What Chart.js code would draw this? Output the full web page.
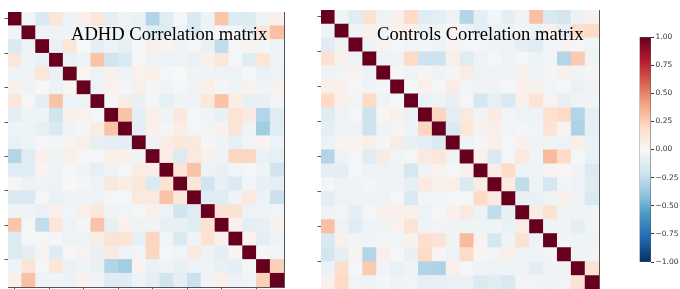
<!DOCTYPE html>
<html>
<head>
<meta charset="utf-8">
<script src="https://cdn.jsdelivr.net/npm/chart.js@4"></script>
<style>
  body { margin: 0; width: 680px; height: 289px; overflow: hidden; background: #fff; position: relative; }
  canvas { position: absolute; }
  .title { position: absolute; font-family: 'Liberation Serif', serif; font-size: 18.6px; line-height: 19px; color: #000; white-space: nowrap; }
</style>
</head>
<body>
<canvas id="adhd" width="300" height="300" style="left:0;top:0"></canvas>
<canvas id="controls" width="300" height="310" style="left:312px;top:0"></canvas>
<canvas id="cbar" width="68" height="289" style="left:612px;top:0"></canvas>
<div class="title" style="left:71px;top:23.5px">ADHD Correlation matrix</div>
<div class="title" style="left:377px;top:23.5px">Controls Correlation matrix</div>
<script>
// 20 regions, tick marks only (no labels) every 2.5 cells
var tickPositions = [0, 2.5, 5, 7.5, 10, 12.5, 15, 17.5];
var colorbarTicks = [-1, -0.75, -0.5, -0.25, 0, 0.25, 0.5, 0.75, 1];

// upper triangle of each correlation matrix, row r holds columns r+1..19
var adhdUpper = [
  [-0.03, -0.15, 0.12, -0.06, 0.05, 0.12, -0.10, -0.05, -0.07, -0.30, -0.12, -0.02, -0.15, -0.04, 0.28, -0.14, -0.14, -0.05, 0.05],
  [-0.06, -0.05, -0.04, -0.05, -0.02, -0.05, -0.05, -0.05, -0.12, -0.12, -0.06, -0.15, -0.05, -0.02, -0.02, -0.10, 0.14, 0.30],
  [-0.07, 0.12, 0.00, -0.10, -0.05, -0.09, -0.02, 0.05, 0.03, -0.05, -0.02, -0.07, -0.25, -0.02, 0.03, -0.02, -0.05],
  [-0.07, -0.06, 0.29, -0.20, -0.15, -0.02, -0.05, -0.06, -0.06, -0.07, 0.05, 0.12, -0.02, -0.12, 0.12, -0.04],
  [0.02, -0.06, 0.05, -0.05, 0.04, 0.06, -0.02, 0.00, -0.04, -0.03, -0.06, -0.06, -0.02, -0.07, -0.06],
  [-0.06, 0.04, -0.02, 0.06, -0.02, -0.04, -0.02, -0.04, 0.06, -0.02, -0.05, 0.04, -0.05, 0.04],
  [-0.02, 0.08, -0.08, -0.02, -0.09, -0.05, -0.06, 0.11, 0.29, 0.07, -0.08, -0.08, -0.03],
  [0.29, -0.10, 0.06, -0.05, 0.11, -0.02, -0.04, -0.08, 0.14, 0.09, -0.30, -0.12],
  [-0.10, 0.05, -0.02, 0.07, -0.02, -0.03, 0.04, 0.14, -0.05, -0.35, -0.12],
  [-0.04, 0.08, 0.11, 0.10, -0.02, -0.05, -0.09, -0.03, 0.03, -0.06],
  [0.07, -0.14, 0.10, 0.05, -0.05, 0.22, 0.22, -0.07, -0.09],
  [0.14, 0.29, -0.06, -0.08, -0.03, -0.02, -0.05, -0.20],
  [0.12, -0.20, -0.08, -0.15, -0.03, -0.08, -0.10],
  [-0.12, -0.12, -0.04, 0.10, -0.06, -0.22],
  [0.15, 0.15, -0.06, -0.05, -0.03],
  [0.05, -0.10, -0.08, 0.05],
  [0.03, -0.10, -0.06],
  [-0.02, -0.03],
  [0.24]
];

var controlsUpper = [
  [-0.04, -0.11, 0.15, -0.05, 0.05, 0.20, -0.12, -0.10, -0.06, -0.30, -0.10, -0.02, -0.10, -0.04, 0.30, -0.16, -0.19, -0.06, 0.04],
  [-0.04, 0.05, -0.03, 0.05, 0.05, -0.06, -0.05, 0.03, -0.06, -0.10, -0.06, -0.06, -0.03, -0.06, 0.05, -0.10, 0.18, 0.20],
  [-0.06, 0.04, -0.02, -0.03, -0.02, -0.06, 0.03, -0.02, -0.02, -0.04, -0.04, -0.10, -0.12, -0.03, 0.03, -0.02, -0.03],
  [-0.06, -0.04, 0.20, -0.21, -0.21, 0.06, -0.12, -0.06, -0.02, -0.06, -0.02, -0.05, -0.03, -0.30, 0.26, -0.05],
  [-0.02, -0.05, 0.02, -0.04, -0.02, 0.08, -0.06, -0.06, -0.04, 0.05, -0.05, -0.02, 0.05, -0.03, -0.02],
  [-0.02, 0.05, -0.02, 0.08, -0.03, -0.04, -0.04, -0.02, 0.05, 0.04, -0.03, -0.02, -0.07, -0.04],
  [-0.07, -0.05, -0.08, -0.02, -0.18, -0.09, -0.16, 0.05, 0.14, 0.04, -0.08, -0.04, -0.03],
  [0.22, -0.10, 0.10, -0.04, 0.09, -0.03, -0.06, -0.04, 0.16, 0.20, -0.30, -0.09],
  [-0.15, 0.12, 0.04, 0.06, -0.03, -0.02, -0.03, 0.14, 0.03, -0.31, -0.09],
  [-0.04, -0.02, 0.06, -0.02, 0.05, -0.04, -0.05, -0.06, 0.06, -0.07],
  [0.05, -0.15, -0.02, 0.10, -0.05, 0.32, 0.20, -0.02, -0.07],
  [0.08, 0.20, -0.06, -0.05, 0.03, 0.02, -0.04, -0.15],
  [0.09, -0.25, -0.05, -0.18, -0.03, -0.06, -0.11],
  [-0.08, -0.07, -0.05, 0.06, -0.05, -0.16],
  [0.08, 0.15, -0.05, -0.04, -0.03],
  [-0.06, -0.04, -0.10, -0.03],
  [-0.03, -0.04, -0.05],
  [-0.04, -0.03],
  [0.15]
];

// RdBu_r
var rdbu = [[5,48,97],[33,102,172],[67,147,195],[146,197,222],[209,229,240],[247,247,247],
            [253,219,199],[244,165,130],[214,96,77],[178,24,43],[103,0,31]];

function cmap(v) {
  var t = (v + 1) / 2 * 10;
  var i = Math.max(0, Math.min(9, Math.floor(t)));
  var f = t - i;
  var a = rdbu[i], b = rdbu[i + 1];
  var c = [0, 1, 2].map(function(k){ return Math.round(a[k] + (b[k] - a[k]) * f); });
  return 'rgb(' + c.join(',') + ')';
}

function fullMatrix(upper) {
  var n = upper.length + 1;
  var m = [];
  for (var r = 0; r < n; r++) { m.push([]); }
  for (var r = 0; r < n; r++) {
    m[r][r] = 1;
    for (var c = r + 1; c < n; c++) {
      m[r][c] = upper[r][c - r - 1];
      m[c][r] = upper[r][c - r - 1];
    }
  }
  return m;
}

function setTicks(list) {
  return function(scale) { scale.ticks = list.map(function(v){ return {value: v}; }); };
}

var frame = '#555';

function matrixChart(id, upper, pad) {
  var m = fullMatrix(upper);
  var points = [], colors = [];
  for (var r = 0; r < m.length; r++) {
    for (var c = 0; c < m.length; c++) {
      points.push({y: r, x: [c - 0.5, c + 0.5]});
      colors.push(cmap(m[r][c]));
    }
  }
  var last = m.length - 0.5;
  return new Chart(document.getElementById(id), {
    type: 'bar',
    data: {
      datasets: [{
        data: points,
        backgroundColor: colors,
        borderWidth: 0,
        grouped: false,
        barPercentage: 1,
        categoryPercentage: 1
      }]
    },
    options: {
      indexAxis: 'y',
      responsive: false,
      animation: false,
      devicePixelRatio: 1,
      layout: { padding: pad },
      plugins: { legend: { display: false }, tooltip: { enabled: false } },
      scales: {
        x: {
          type: 'linear', position: 'bottom', min: -0.5, max: last, offset: false,
          afterBuildTicks: setTicks(tickPositions),
          afterFit: function(s){ s.height = 4; },
          grid: { drawOnChartArea: false, offset: false, tickLength: 3.5, color: frame },
          ticks: { display: false },
          border: { color: frame }
        },
        y: {
          type: 'linear', position: 'left', reverse: true, min: -0.5, max: last, offset: false,
          afterBuildTicks: setTicks(tickPositions),
          afterFit: function(s){ s.width = 8; },
          grid: { drawOnChartArea: false, offset: false, tickLength: 3.5, color: frame },
          ticks: { display: false },
          border: { color: frame }
        },
        x2: {
          type: 'linear', position: 'top',
          afterFit: function(s){ s.height = 0; },
          grid: { drawOnChartArea: false, drawTicks: false },
          ticks: { display: false },
          border: { color: frame }
        },
        y2: {
          type: 'linear', position: 'right',
          afterFit: function(s){ s.width = 0; },
          grid: { drawOnChartArea: false, drawTicks: false },
          ticks: { display: false },
          border: { color: frame }
        }
      }
    }
  });
}

matrixChart('adhd', adhdUpper, { left: 0, top: 12, right: 16, bottom: 9 });
matrixChart('controls', controlsUpper, { left: 1, top: 10, right: 13, bottom: 16.5 });

new Chart(document.getElementById('cbar'), {
  type: 'bar',
  data: {
    labels: [''],
    datasets: [{
      data: [[colorbarTicks[0], colorbarTicks[colorbarTicks.length - 1]]],
      backgroundColor: function(ctx) {
        var area = ctx.chart.chartArea;
        if (!area) return '#f7f7f7';
        var g = ctx.chart.ctx.createLinearGradient(0, area.bottom, 0, area.top);
        rdbu.forEach(function(c, i){ g.addColorStop(i / 10, 'rgb(' + c.join(',') + ')'); });
        return g;
      },
      borderColor: frame,
      borderWidth: 0.8,
      borderSkipped: false,
      barPercentage: 1,
      categoryPercentage: 1
    }]
  },
  options: {
    responsive: false,
    animation: false,
    devicePixelRatio: 1,
    layout: { padding: { left: 27.5, top: 37, right: 0, bottom: 27 } },
    plugins: { legend: { display: false }, tooltip: { enabled: false } },
    scales: {
      x: { display: false },
      y: {
        position: 'right', min: -1, max: 1,
        afterBuildTicks: setTicks(colorbarTicks),
        afterFit: function(s){ s.width = 29; },
        grid: { drawOnChartArea: false, tickLength: 3, color: '#333' },
        border: { display: false },
        ticks: {
          padding: 1.5,
          color: '#333',
          font: { family: 'DejaVu Sans', size: 7.5 },
          callback: function(v){ return v.toFixed(2).replace('-', '\u2212'); }
        }
      }
    }
  }
});
</script>
</body>
</html>
